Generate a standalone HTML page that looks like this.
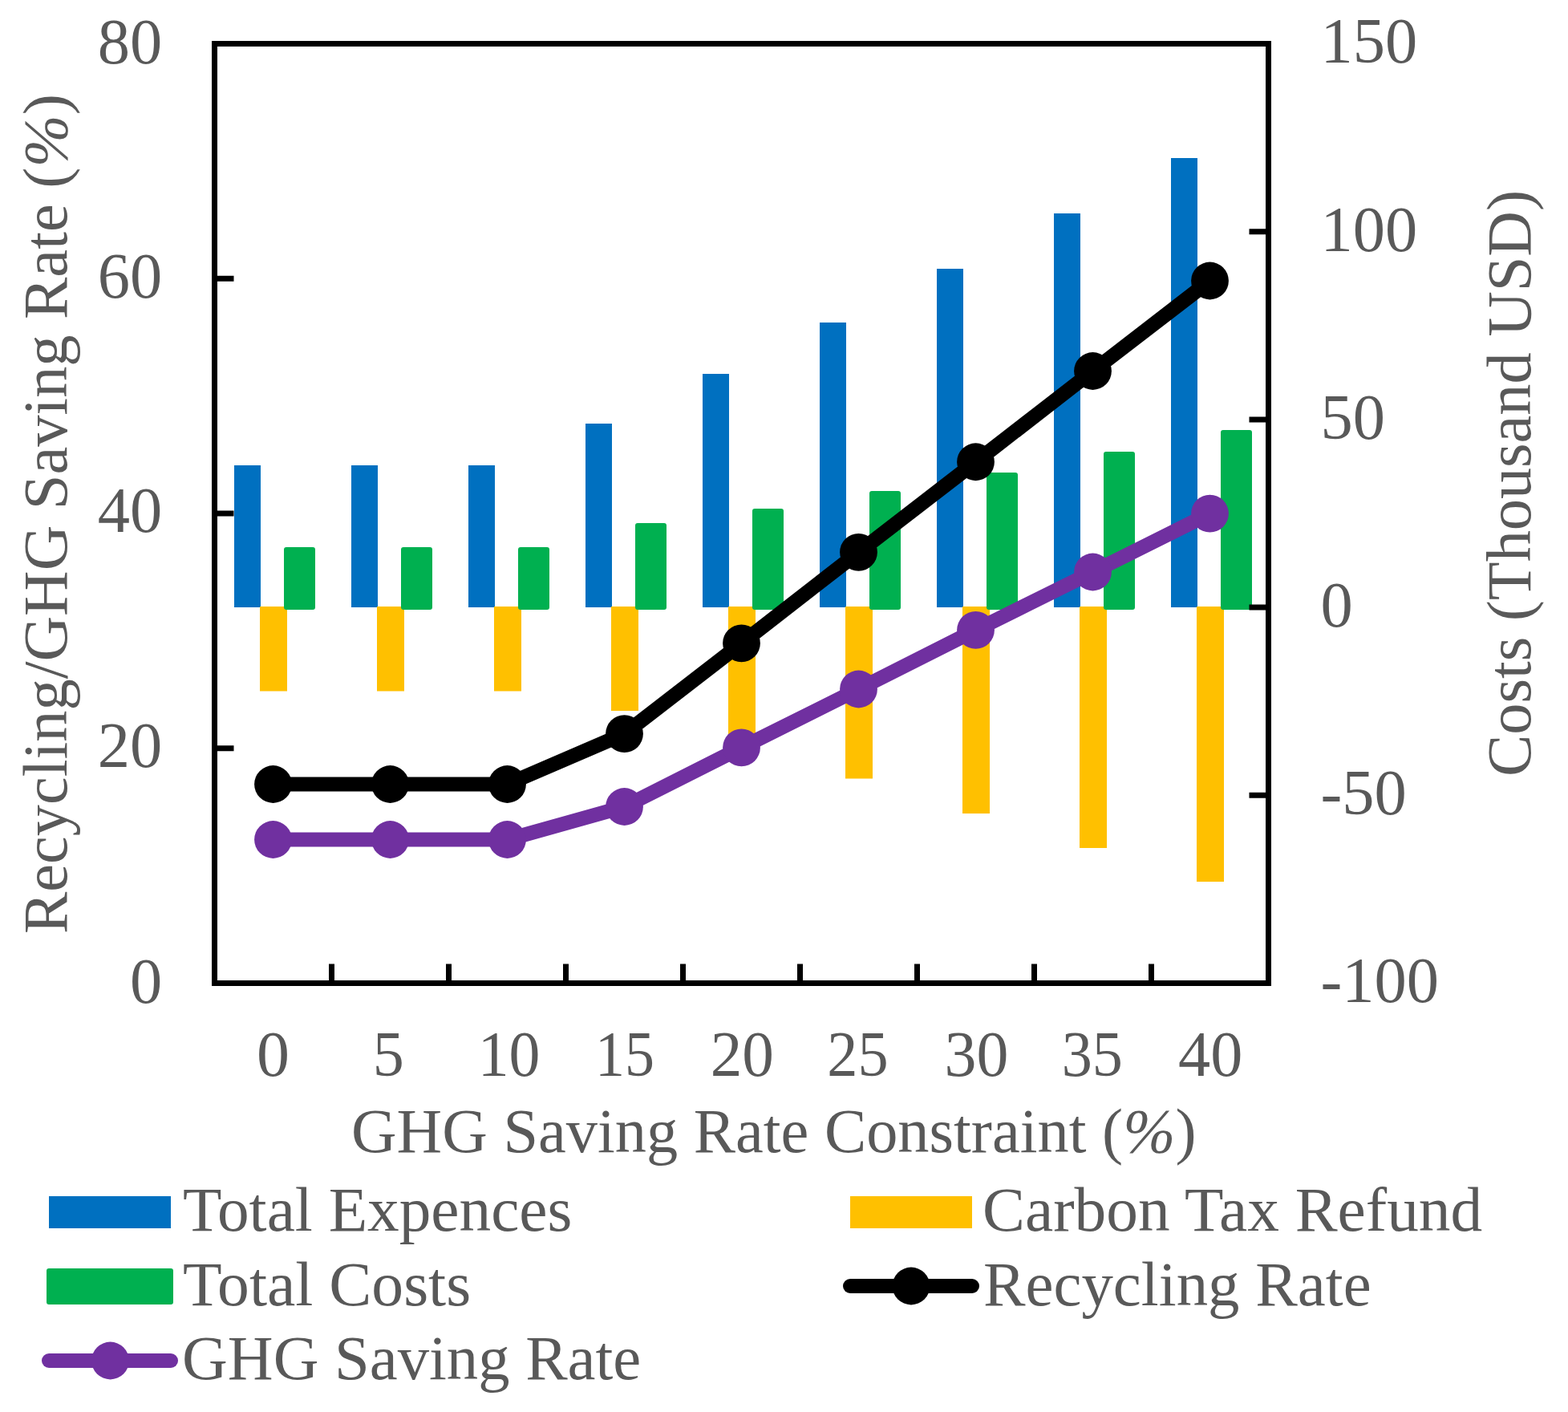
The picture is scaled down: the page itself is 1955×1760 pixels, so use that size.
<!DOCTYPE html>
<html><head><meta charset="utf-8"><title>Chart</title>
<style>html,body{margin:0;padding:0;background:#fff;}body{width:1955px;height:1760px;overflow:hidden;}svg{display:block;}</style>
</head><body>
<svg width="1955" height="1760" viewBox="0 0 1955 1760">
<rect width="100%" height="100%" fill="#fff"/>
<rect x="292" y="580" width="33" height="177" fill="#0070C0"/>
<rect x="438" y="580" width="33" height="177" fill="#0070C0"/>
<rect x="584" y="580" width="33" height="177" fill="#0070C0"/>
<rect x="730" y="528" width="33" height="229" fill="#0070C0"/>
<rect x="876" y="466" width="33" height="291" fill="#0070C0"/>
<rect x="1022" y="402" width="33" height="355" fill="#0070C0"/>
<rect x="1168" y="335" width="33" height="422" fill="#0070C0"/>
<rect x="1314" y="266" width="33" height="491" fill="#0070C0"/>
<rect x="1460" y="197" width="33" height="560" fill="#0070C0"/>
<rect x="324" y="756" width="34" height="105.5" fill="#FFC000"/>
<rect x="470" y="756" width="34" height="105.5" fill="#FFC000"/>
<rect x="616" y="756" width="34" height="105.5" fill="#FFC000"/>
<rect x="762" y="756" width="34" height="130" fill="#FFC000"/>
<rect x="908" y="756" width="34" height="172" fill="#FFC000"/>
<rect x="1054" y="756" width="34" height="214.5" fill="#FFC000"/>
<rect x="1200" y="756" width="34" height="258" fill="#FFC000"/>
<rect x="1346" y="756" width="34" height="301" fill="#FFC000"/>
<rect x="1492" y="756" width="34" height="343" fill="#FFC000"/>
<rect x="354" y="682" width="39" height="78" rx="3" fill="#00B050"/>
<rect x="500" y="682" width="39" height="78" rx="3" fill="#00B050"/>
<rect x="646" y="682" width="39" height="78" rx="3" fill="#00B050"/>
<rect x="792" y="652" width="39" height="108" rx="3" fill="#00B050"/>
<rect x="938" y="634" width="39" height="126" rx="3" fill="#00B050"/>
<rect x="1084" y="612" width="39" height="148" rx="3" fill="#00B050"/>
<rect x="1230" y="589" width="39" height="171" rx="3" fill="#00B050"/>
<rect x="1376" y="563" width="39" height="197" rx="3" fill="#00B050"/>
<rect x="1522" y="536" width="39" height="224" rx="3" fill="#00B050"/>
<path d="M267.5 54.5 H1581.5 V1225.5 H267.5 Z" fill="none" stroke="#000" stroke-width="7" stroke-linejoin="miter"/>
<path d="M413.5 1225.5 V1201.5 M559.5 1225.5 V1201.5 M705.5 1225.5 V1201.5 M851.5 1225.5 V1201.5 M997.5 1225.5 V1201.5 M1143.5 1225.5 V1201.5 M1289.5 1225.5 V1201.5 M1435.5 1225.5 V1201.5 M267.5 932.75 H291.5 M267.5 640.00 H291.5 M267.5 347.25 H291.5 M1581.5 991.30 H1557.5 M1581.5 757.10 H1557.5 M1581.5 522.90 H1557.5 M1581.5 288.70 H1557.5" stroke="#000" stroke-width="7" fill="none"/>
<polyline points="340.5,977.5 486.5,977.5 632.5,977.5 778.5,914.6 924.5,801.8 1070.5,688.3 1216.5,575.75 1362.5,462.5 1508.5,350" fill="none" stroke="#000" stroke-width="18" stroke-linejoin="round" stroke-linecap="round"/>
<circle cx="340.5" cy="977.5" r="23.4" fill="#000"/>
<circle cx="486.5" cy="977.5" r="23.4" fill="#000"/>
<circle cx="632.5" cy="977.5" r="23.4" fill="#000"/>
<circle cx="778.5" cy="914.6" r="23.4" fill="#000"/>
<circle cx="924.5" cy="801.8" r="23.4" fill="#000"/>
<circle cx="1070.5" cy="688.3" r="23.4" fill="#000"/>
<circle cx="1216.5" cy="575.75" r="23.4" fill="#000"/>
<circle cx="1362.5" cy="462.5" r="23.4" fill="#000"/>
<circle cx="1508.5" cy="350" r="23.4" fill="#000"/>
<polyline points="340.5,1046.5 486.5,1046.5 632.5,1046.5 778.5,1005.5 924.5,931.9 1070.5,859 1216.5,785.4 1362.5,713 1508.5,640.1" fill="none" stroke="#7030A0" stroke-width="18" stroke-linejoin="round" stroke-linecap="round"/>
<circle cx="340.5" cy="1046.5" r="23.4" fill="#7030A0"/>
<circle cx="486.5" cy="1046.5" r="23.4" fill="#7030A0"/>
<circle cx="632.5" cy="1046.5" r="23.4" fill="#7030A0"/>
<circle cx="778.5" cy="1005.5" r="23.4" fill="#7030A0"/>
<circle cx="924.5" cy="931.9" r="23.4" fill="#7030A0"/>
<circle cx="1070.5" cy="859" r="23.4" fill="#7030A0"/>
<circle cx="1216.5" cy="785.4" r="23.4" fill="#7030A0"/>
<circle cx="1362.5" cy="713" r="23.4" fill="#7030A0"/>
<circle cx="1508.5" cy="640.1" r="23.4" fill="#7030A0"/>
<g font-family="Liberation Serif, Times New Roman, serif" font-size="78.5" fill="#595959">
<text id="yl0" x="202.30" y="1249.60" text-anchor="end" font-size="80.5">0</text>
<text id="yl20" x="202.30" y="955.55" text-anchor="end" font-size="80.5">20</text>
<text id="yl40" x="202.30" y="663.30" text-anchor="end" font-size="80.5">40</text>
<text id="yl60" x="202.30" y="370.85" text-anchor="end" font-size="80.5">60</text>
<text id="yl80" x="202.30" y="79.30" text-anchor="end" font-size="80.5">80</text>
<text id="yr-100" x="1646.50" y="1249.30" font-size="80.5">-100</text>
<text id="yr-50" x="1646.50" y="1015.10" font-size="80.5">-50</text>
<text id="yr0" x="1646.50" y="780.90" font-size="80.5">0</text>
<text id="yr50" x="1646.50" y="546.70" font-size="80.5">50</text>
<text id="yr100" x="1646.50" y="312.50" font-size="80.5">100</text>
<text id="yr150" x="1646.50" y="78.30" font-size="80.5">150</text>
<text id="x0" x="340.57" y="1340.60" text-anchor="middle" font-size="80.5" textLength="40.98" lengthAdjust="spacingAndGlyphs">0</text>
<text id="x1" x="484.23" y="1340.60" text-anchor="middle" font-size="80.5" textLength="39.06" lengthAdjust="spacingAndGlyphs">5</text>
<text id="x2" x="634.56" y="1340.60" text-anchor="middle" font-size="80.5" textLength="77.82" lengthAdjust="spacingAndGlyphs">10</text>
<text id="x3" x="778.96" y="1340.60" text-anchor="middle" font-size="80.5" textLength="73.95" lengthAdjust="spacingAndGlyphs">15</text>
<text id="x4" x="925.31" y="1340.60" text-anchor="middle" font-size="80.5" textLength="79.22" lengthAdjust="spacingAndGlyphs">20</text>
<text id="x5" x="1069.43" y="1340.60" text-anchor="middle" font-size="80.5" textLength="76.37" lengthAdjust="spacingAndGlyphs">25</text>
<text id="x6" x="1217.41" y="1340.60" text-anchor="middle" font-size="80.5" textLength="79.86" lengthAdjust="spacingAndGlyphs">30</text>
<text id="x7" x="1361.74" y="1340.60" text-anchor="middle" font-size="80.5" textLength="76.16" lengthAdjust="spacingAndGlyphs">35</text>
<text id="x8" x="1509.21" y="1340.60" text-anchor="middle" font-size="80.5" textLength="80.29" lengthAdjust="spacingAndGlyphs">40</text>
<text id="xt" x="438.01" y="1435.80" textLength="1053.53" lengthAdjust="spacingAndGlyphs">GHG Saving Rate Constraint (<tspan font-style="italic">%</tspan>)</text>
<text id="lt" transform="translate(83.00 1164.00) rotate(-90)" textLength="1046.80" lengthAdjust="spacingAndGlyphs">Recycling/GHG Saving Rate (<tspan font-style="italic">%</tspan>)</text>
<text id="rt" transform="translate(1907.50 967.96) rotate(-90)" textLength="730.97" lengthAdjust="spacingAndGlyphs">Costs (Thousand USD)</text>
<text id="l1" x="228.09" y="1533.70" textLength="485.33" lengthAdjust="spacingAndGlyphs">Total Expences</text>
<text id="l2" x="228.09" y="1627.00" textLength="359.09" lengthAdjust="spacingAndGlyphs">Total Costs</text>
<text id="l3" x="227.09" y="1718.70" textLength="572.15" lengthAdjust="spacingAndGlyphs">GHG Saving Rate</text>
<text id="l4" x="1225.07" y="1534.00" textLength="623.12" lengthAdjust="spacingAndGlyphs">Carbon Tax Refund</text>
<text id="l5" x="1225.89" y="1626.70" textLength="483.76" lengthAdjust="spacingAndGlyphs">Recycling Rate</text>
</g>
<rect x="61" y="1491" width="152" height="40" fill="#0070C0"/>
<rect x="58" y="1581" width="158" height="45" rx="3" fill="#00B050"/>
<rect x="1060" y="1491" width="152" height="40" fill="#FFC000"/>
<path d="M61 1696 H213" stroke="#7030A0" stroke-width="18" stroke-linecap="round"/>
<circle cx="137.5" cy="1696" r="23.4" fill="#7030A0"/>
<path d="M1060 1603 H1212" stroke="#000" stroke-width="18" stroke-linecap="round"/>
<circle cx="1136" cy="1603" r="23.4" fill="#000"/>
</svg>
</body></html>
